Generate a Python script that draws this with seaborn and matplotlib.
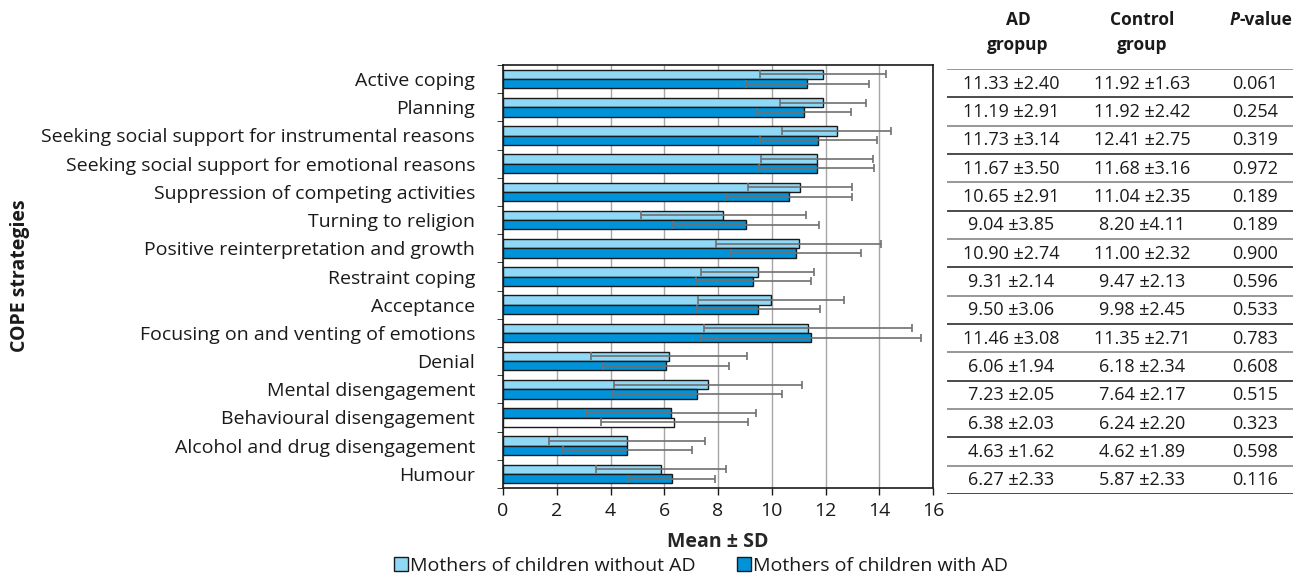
import numpy as np
import pandas as pd
import matplotlib
matplotlib.use("Agg")
import matplotlib.pyplot as plt
import seaborn as sns
from matplotlib.patches import Patch

# COPE strategies, top to bottom
strategies = [
    "Active coping",
    "Planning",
    "Seeking social support for instrumental reasons",
    "Seeking social support for emotional reasons",
    "Suppression of competing activities",
    "Turning to religion",
    "Positive reinterpretation and growth",
    "Restraint coping",
    "Acceptance",
    "Focusing on and venting of emotions",
    "Denial",
    "Mental disengagement",
    "Behavioural disengagement",
    "Alcohol and drug disengagement",
    "Humour",
]

# bar means (from the table) and error half-widths
control_mean = [11.92, 11.92, 12.41, 11.68, 11.04, 8.20, 11.00, 9.47, 9.98, 11.35, 6.18, 7.64, 6.24, 4.62, 5.87]
ad_mean = [11.33, 11.19, 11.73, 11.67, 10.65, 9.04, 10.90, 9.31, 9.50, 11.46, 6.06, 7.23, 6.38, 4.63, 6.27]
control_err = [2.34, 1.60, 2.03, 2.07, 1.94, 3.07, 3.06, 2.12, 2.72, 3.86, 2.91, 3.50, 3.17, 2.90, 2.42]
ad_err = [2.30, 1.75, 2.18, 2.15, 2.34, 2.71, 2.43, 2.14, 2.30, 4.08, 2.35, 3.15, 2.75, 2.41, 1.63]

# table at the right
ad_col = ["11.33 ±2.40", "11.19 ±2.91", "11.73 ±3.14", "11.67 ±3.50", "10.65 ±2.91",
          "9.04 ±3.85", "10.90 ±2.74", "9.31 ±2.14", "9.50 ±3.06", "11.46 ±3.08",
          "6.06 ±1.94", "7.23 ±2.05", "6.38 ±2.03", "4.63 ±1.62", "6.27 ±2.33"]
control_col = ["11.92 ±1.63", "11.92 ±2.42", "12.41 ±2.75", "11.68 ±3.16", "11.04 ±2.35",
               "8.20 ±4.11", "11.00 ±2.32", "9.47 ±2.13", "9.98 ±2.45", "11.35 ±2.71",
               "6.18 ±2.34", "7.64 ±2.17", "6.24 ±2.20", "4.62 ±1.89", "5.87 ±2.33"]
p_col = ["0.061", "0.254", "0.319", "0.972", "0.189", "0.189", "0.900", "0.596",
         "0.533", "0.783", "0.608", "0.515", "0.323", "0.598", "0.116"]

groups = ["Mothers of children without AD", "Mothers of children with AD"]
light = "#8fd8f6"
dark = "#0093d9"
ink = "#1a1a1a"

sns.set_style("white")
plt.rcParams["font.family"] = ["Open Sans", "DejaVu Sans"]
plt.rcParams["text.color"] = ink
plt.rcParams["xtick.color"] = ink
plt.rcParams["ytick.color"] = ink

W, H = 1296, 579
fig = plt.figure(figsize=(W / 100, H / 100), dpi=100)
ax = fig.add_axes([503 / W, 1 - 488 / H, 430 / W, 423 / H])

df = pd.DataFrame({
    "strategy": strategies * 2,
    "value": control_mean + ad_mean,
    "group": [groups[0]] * len(strategies) + [groups[1]] * len(strategies),
})

sns.barplot(data=df, x="value", y="strategy", hue="group", hue_order=groups,
            palette=[light, dark], saturation=1, orient="h", width=0.66,
            edgecolor=ink, linewidth=1.0, errorbar=None, legend=False, ax=ax, zorder=3)

# error bars at the bar centres
for bars, means, errs in zip(ax.containers, [control_mean, ad_mean], [control_err, ad_err]):
    ys = [b.get_y() + b.get_height() / 2 for b in bars]
    ax.errorbar(means, ys, xerr=errs, fmt="none", ecolor="#6f6f6f", elinewidth=1.2,
                capsize=3, capthick=1.2, zorder=4)

# behavioural disengagement row is drawn with swapped fills in the source
ax.containers[0][12].set_facecolor(dark)
ax.containers[1][12].set_facecolor("white")

ax.set_xlim(0, 16)
ax.set_ylim(14.5, -0.5)
ax.set_xticks(range(0, 17, 2))
ax.xaxis.grid(True, color="#a6a6a6", linewidth=1.0, zorder=0)
ax.set_axisbelow(True)
for s in ax.spines.values():
    s.set_visible(True)
    s.set_color(ink)
    s.set_linewidth(1.2)
ax.tick_params(axis="x", direction="out", length=5, width=1, labelsize=14, pad=5, bottom=True)
ax.tick_params(axis="y", which="major", length=0, labelsize=14, pad=20)
ax.set_yticks(np.arange(-0.5, 15, 1), minor=True)
ax.tick_params(axis="y", which="minor", direction="out", length=4, left=True)
ax.set_xlabel("Mean ± SD", fontsize=14, fontweight="bold", labelpad=9)
ax.set_ylabel("")

fig.text(20 / W, 1 - 276 / H, "COPE strategies", rotation=90, ha="center", va="center",
         fontsize=14, fontweight="bold")

# table
tab = fig.add_axes([947 / W, 1 - 494 / H, 349 / W, 425 / H])
tab.set_xlim(947, 1296)
tab.set_ylim(15, 0)
tab.axis("off")
for k in range(16):
    tab.plot([947, 1293], [k, k], color=ink if k % 2 else "#7a7a7a", lw=1.1,
             solid_capstyle="butt")
for i in range(len(strategies)):
    tab.text(1011, i + 0.52, ad_col[i], ha="center", va="center", fontsize=13)
    tab.text(1142, i + 0.52, control_col[i], ha="center", va="center", fontsize=13)
    tab.text(1255, i + 0.52, p_col[i], ha="center", va="center", fontsize=13)

hdr = dict(ha="center", va="center", fontsize=12.5, fontweight="bold")
fig.text(1018 / W, 1 - 20 / H, "AD", **hdr)
fig.text(1018 / W, 1 - 45 / H, "gropup", **hdr)
fig.text(1142 / W, 1 - 20 / H, "Control", **hdr)
fig.text(1142 / W, 1 - 45 / H, "group", **hdr)
fig.text(1240 / W, 1 - 20 / H, "P", ha="right", va="center", fontsize=12.5, fontweight="bold",
         style="italic")
fig.text(1240 / W, 1 - 20 / H, "-value", ha="left", va="center", fontsize=12.5, fontweight="bold")

handles = [Patch(facecolor=light, edgecolor=ink, lw=1.0),
           Patch(facecolor=dark, edgecolor=ink, lw=1.0)]
fig.legend(handles, groups, loc="center", bbox_to_anchor=(701 / W, 1 - 566 / H), ncol=2,
           frameon=False, fontsize=14, handlelength=0.75, handleheight=0.75,
           handletextpad=0.1, columnspacing=2.1, borderaxespad=0)

fig.savefig("out.png", dpi=100)
